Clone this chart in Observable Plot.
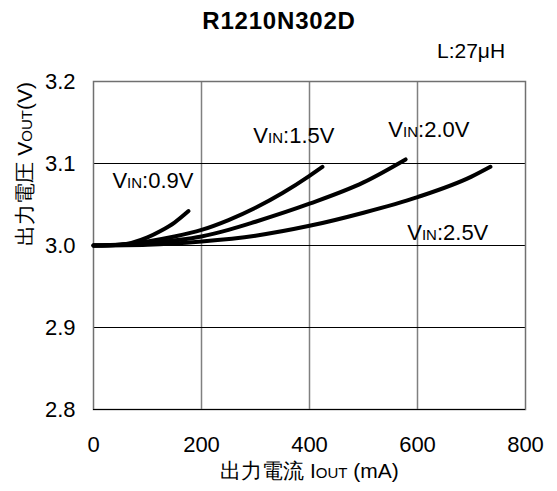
<!DOCTYPE html>
<html><head><meta charset="utf-8">
<script src="https://cdn.jsdelivr.net/npm/d3@7"></script>
<script src="https://cdn.jsdelivr.net/npm/@observablehq/plot@0.6"></script>
<style>
body{margin:0;background:#fff;font-family:"Liberation Sans",Arial,sans-serif;}
#wrap{position:relative;width:557px;height:491px;}
#title{position:absolute;left:0;width:558px;top:9px;text-align:center;font-weight:bold;font-size:24px;line-height:24px;letter-spacing:0.8px;}
#lbl{position:absolute;left:437px;top:40px;font-size:21px;line-height:21px;}
#chart{position:absolute;left:0;top:0;}
</style></head><body>
<div id="wrap"><div id="chart"></div><div id="title">R1210N302D</div><div id="lbl">L:27μH</div></div>
<script>
const iout09 = [0, 50, 100, 125, 150, 176];
const vout09 = [3.000, 3.001, 3.010, 3.018, 3.028, 3.042];
const iout15 = [0, 50, 100, 150, 200, 250, 300, 350, 400, 424];
const vout15 = [3.000, 3.001, 3.005, 3.011, 3.019, 3.031, 3.046, 3.064, 3.085, 3.096];
const iout20 = [0, 100, 200, 250, 300, 400, 500, 578];
const vout20 = [3.000, 3.003, 3.011, 3.019, 3.029, 3.051, 3.077, 3.105];
const iout25 = [0, 100, 200, 300, 400, 500, 600, 700, 735];
const vout25 = [3.000, 3.001, 3.005, 3.012, 3.024, 3.040, 3.059, 3.084, 3.096];
const seriesNames = ["0.9V", "1.5V", "2.0V", "2.5V"];
const labelX = [35, 296, 546, 581];
const labelY = [3.079, 3.134, 3.1415, 3.0152];
const xTicks = [0, 200, 400, 600, 800];
const yTicks = [2.8, 2.9, 3.0, 3.1, 3.2];

const curves = [[iout09, vout09], [iout15, vout15], [iout20, vout20], [iout25, vout25]];
const data = curves.flatMap(([xs, ys], k) => xs.map((x, i) => ({s: seriesNames[k], x, y: ys[i]})));
const labels = seriesNames.map((s, k) => ({t: "V_{IN}:" + s, x: labelX[k], y: labelY[k]}));

const plot = Plot.plot({
  width: 557, height: 491,
  marginLeft: 93, marginRight: 32, marginTop: 81, marginBottom: 82,
  style: {fontFamily: "'Liberation Sans', Arial, sans-serif", fontSize: "22px", color: "#000", background: "#fff"},
  x: {domain: [0, 800]},
  y: {domain: [2.8, 3.2]},
  marks: [
    Plot.ruleX([200, 400, 600], {stroke: "#808080", strokeWidth: 1.5}),
    Plot.ruleY([2.9, 3.0, 3.1], {stroke: "#000", strokeWidth: 1}),
    Plot.frame({stroke: "#707070", strokeWidth: 1.5}),
    Plot.ruleY([2.8], {stroke: "#000", strokeWidth: 1.2}),
    Plot.line(data, {x: "x", y: "y", z: "s", stroke: "#000", strokeWidth: 4, curve: "monotone-x"}),
    Plot.text(labels, {x: "x", y: "y", text: "t", textAnchor: "start", fontSize: 22}),
    Plot.axisX({ticks: xTicks, tickSize: 0, tickPadding: 27, label: null, fontSize: 22}),
    Plot.axisY({ticks: yTicks, tickSize: 0, tickPadding: 18, tickFormat: d3.format(".1f"), label: null, fontSize: 22}),
    Plot.text(["出力電流 I_{OUT} (mA)"], {frameAnchor: "bottom", dy: 68, fontSize: 21}),
    Plot.text(["出力電圧 V_{OUT}(V)"], {frameAnchor: "left", dx: -68, rotate: -90, fontSize: 21})
  ]
});
document.getElementById("chart").appendChild(plot);

d3.select(plot).selectAll("text").each(function() {
  const el = d3.select(this);
  const txt = this.textContent;
  if (!txt.includes("_{")) return;
  el.text(null);
  const parts = txt.split(/(_\{[^}]*\})/);
  for (const p of parts) {
    if (!p) continue;
    if (p.startsWith("_{")) el.append("tspan").attr("font-size", "15px").text(p.slice(2, -1));
    else el.append("tspan").text(p);
  }
});
</script>
</body></html>
